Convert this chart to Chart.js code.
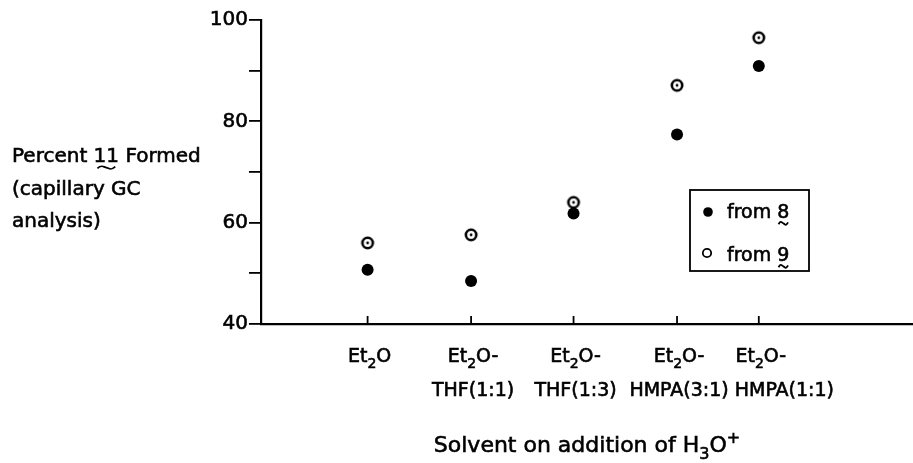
<!DOCTYPE html>
<html><head><meta charset="utf-8">
<script src="https://cdn.jsdelivr.net/npm/chart.js@4"></script>
<style>html,body{margin:0;padding:0;background:#fff}#wrap{width:913px;height:463px}</style>
</head><body><div id="wrap"><canvas id="c" width="913" height="463"></canvas></div>
<script>
// ---- data ----
const categories = [["Et_{2}O"], ["Et_{2}O-", "THF(1:1)"], ["Et_{2}O-", "THF(1:3)"], ["Et_{2}O-", "HMPA(3:1)"], ["Et_{2}O-", "HMPA(1:1)"]];
const categoryPositions = [1.03, 2.03, 3.02, 4.02, 4.81];
const from8 = [50.7, 48.5, 61.8, 77.4, 90.9];
const from9 = [56.0, 57.6, 64.0, 87.1, 96.5];
const yTickLabels = [40, 60, 80, 100];
const seriesLabels = ["from ~{8}", "from ~{9}"];
const yTitleLines = ["Percent ~{11} Formed", "(capillary GC", "analysis)"];
const xTitle = "Solvent on addition of H_{3}O^{+}";

const FONT = "'DejaVu Sans', sans-serif";
const INK = '#000';
const TEXT_STROKE = 0.6;

// ---- rich text helpers ----
function parseRich(s) {
  const segs = []; const re = /([_^~])\{([^}]*)\}/g; let last = 0, m;
  while ((m = re.exec(s))) {
    if (m.index > last) segs.push({ t: s.slice(last, m.index), k: '' });
    segs.push({ t: m[2], k: m[1] });
    last = re.lastIndex;
  }
  if (last < s.length) segs.push({ t: s.slice(last), k: '' });
  return segs;
}
function segFont(k, size) { return (k === '_' || k === '^') ? Math.round(size * 0.72) + 'px ' + FONT : size + 'px ' + FONT; }
function richWidth(ctx, s, size) {
  let w = 0;
  for (const g of parseRich(s)) { ctx.font = segFont(g.k, size); w += ctx.measureText(g.t).width; }
  return w;
}
function drawTilde(ctx, cx, y, w) {
  ctx.save(); ctx.strokeStyle = INK; ctx.lineWidth = 1.8; ctx.beginPath();
  const h = 2.2; const x0 = cx - w / 2;
  ctx.moveTo(x0, y + h * 0.4);
  ctx.bezierCurveTo(x0 + w * 0.25, y - h * 1.6, x0 + w * 0.35, y - h * 0.2, x0 + w * 0.5, y);
  ctx.bezierCurveTo(x0 + w * 0.65, y + h * 0.2, x0 + w * 0.75, y + h * 1.6, x0 + w, y - h * 0.4);
  ctx.stroke(); ctx.restore();
}
function drawRich(ctx, s, x, y, size, align) {
  const w = richWidth(ctx, s, size);
  let cx = align === 'center' ? x - w / 2 : (align === 'right' ? x - w : x);
  ctx.fillStyle = INK; ctx.strokeStyle = INK; ctx.lineWidth = TEXT_STROKE;
  ctx.textBaseline = 'alphabetic'; ctx.textAlign = 'left';
  for (const g of parseRich(s)) {
    ctx.font = segFont(g.k, size);
    const gw = ctx.measureText(g.t).width;
    let yy = y;
    if (g.k === '_') yy = y + size * 0.32;
    if (g.k === '^') yy = y - size * 0.42;
    ctx.fillText(g.t, cx, yy);
    ctx.strokeText(g.t, cx, yy);
    if (g.k === '~') drawTilde(ctx, cx + gw / 2, y + size * 0.28, Math.max(gw * 0.7, size * 0.5));
    cx += gw;
  }
  return w;
}

// ---- open marker (circle with centre dot) ----
function makeOpenMarker() {
  const c = document.createElement('canvas'); c.width = 16; c.height = 16;
  const g = c.getContext('2d');
  g.strokeStyle = INK; g.lineWidth = 2.6;
  g.beginPath(); g.arc(8, 8, 5.2, 0, Math.PI * 2); g.stroke();
  g.fillStyle = INK; g.beginPath(); g.arc(8, 8, 1.4, 0, Math.PI * 2); g.fill();
  return c;
}
const openMarker = makeOpenMarker();

// ---- decorations drawn with scale positions ----
const decor = {
  id: 'decor',
  afterDraw(chart) {
    const ctx = chart.ctx, xs = chart.scales.x, area = chart.chartArea;
    ctx.save();
    // x tick marks (inside)
    ctx.strokeStyle = INK; ctx.lineWidth = 1.8;
    categoryPositions.forEach(p => {
      const px = xs.getPixelForValue(p);
      ctx.beginPath(); ctx.moveTo(px, area.bottom); ctx.lineTo(px, area.bottom - 8); ctx.stroke();
    });
    // x category labels, two lines, avoid overlaps
    const size = 19, baselines = [362, 396], gap = 6;
    for (let line = 0; line < 2; line++) {
      let prevRight = -Infinity;
      categories.forEach((lab, i) => {
        const s = lab[line]; if (!s) return;
        const w = richWidth(ctx, s, size);
        let c = xs.getPixelForValue(categoryPositions[i]) + 2;
        if (c - w / 2 < prevRight + gap) c = prevRight + gap + w / 2;
        drawRich(ctx, s, c, baselines[line], size, 'center');
        prevRight = c + w / 2;
      });
    }
    // y title
    const yb = [162, 195, 227];
    yTitleLines.forEach((s, i) => drawRich(ctx, s, 12, yb[i], 20, 'left'));
    // x title
    drawRich(ctx, xTitle, (area.left + area.right) / 2, 452, 22, 'center');
    // legend
    ctx.strokeStyle = INK; ctx.lineWidth = 1.8;
    ctx.strokeRect(690, 190, 119, 81);
    ctx.fillStyle = INK; ctx.beginPath(); ctx.arc(708, 212, 4.8, 0, Math.PI * 2); ctx.fill();
    ctx.lineWidth = 1.8; ctx.beginPath(); ctx.arc(707, 253, 4.2, 0, Math.PI * 2); ctx.stroke();
    drawRich(ctx, seriesLabels[0], 727, 218, 19, 'left');
    drawRich(ctx, seriesLabels[1], 727, 261, 19, 'left');
    ctx.restore();
  }
};

new Chart(document.getElementById('c'), {
  type: 'scatter',
  data: {
    datasets: [
      { label: seriesLabels[0], data: categoryPositions.map((x, i) => ({ x, y: from8[i] })),
        pointStyle: 'circle', pointRadius: 6, backgroundColor: INK, borderColor: INK, borderWidth: 0 },
      { label: seriesLabels[1], data: categoryPositions.map((x, i) => ({ x, y: from9[i] })),
        pointStyle: openMarker, pointRadius: 8 }
    ]
  },
  options: {
    responsive: false, animation: false, devicePixelRatio: 1,
    layout: { autoPadding: false, padding: { top: 20, right: 0, left: 0, bottom: 0 } },
    plugins: { legend: { display: false }, tooltip: { enabled: false } },
    scales: {
      x: { type: 'linear', min: 0, max: 6.3,
        grid: { display: false }, border: { display: true, color: INK, width: 2.2 },
        ticks: { display: false },
        afterFit(s) { s.height = 463 - 324; s.paddingLeft = 0; s.paddingRight = 0; } },
      y: { min: 40, max: 100,
        ticks: { stepSize: 10, color: INK, padding: 1, font: { family: FONT, size: 20 },
          textStrokeColor: INK, textStrokeWidth: TEXT_STROKE,
          callback: v => yTickLabels.includes(v) ? String(v) : '' },
        grid: { drawOnChartArea: false, tickLength: 12, color: INK, lineWidth: 1.8 },
        border: { color: INK, width: 2.2 },
        afterFit(s) { s.width = 261; } }
    }
  },
  plugins: [decor]
});
</script>
</body></html>
